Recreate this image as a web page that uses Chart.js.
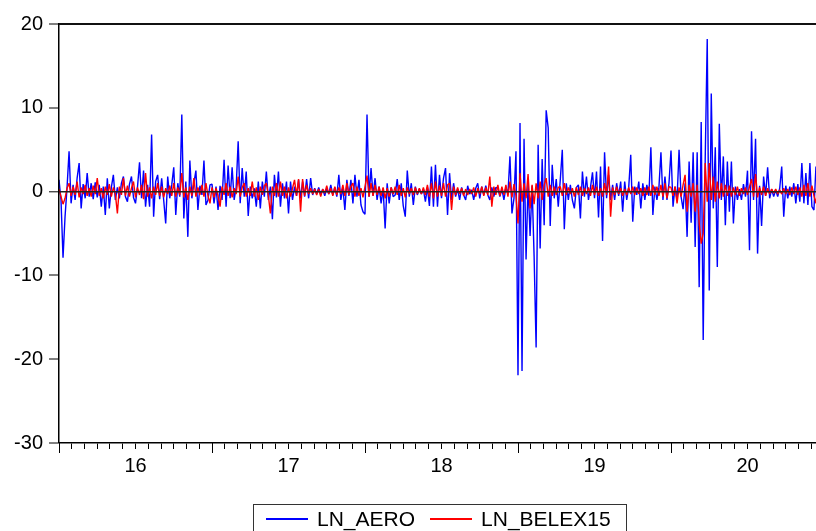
<!DOCTYPE html>
<html lang="en">
<head>
<meta charset="utf-8">
<title>LN_AERO / LN_BELEX15</title>
<script src="https://cdn.jsdelivr.net/npm/chart.js@4.4.1/dist/chart.umd.min.js"></script>
<style>
  html, body { margin: 0; padding: 0; background: #fff; overflow: hidden; }
  #wrap { position: relative; width: 816px; height: 531px; overflow: hidden; }
  #returns-chart { position: absolute; left: 0; top: 0; }
  .legend-box {
    position: absolute; left: 253px; top: 504px; width: 374px; height: 40px;
    border: 1px solid #333; box-sizing: border-box;
    font: 21px "Liberation Sans", Arial, sans-serif; color: #000;
    display: flex; align-items: center; padding: 0 0 11px 12px;
  }
  .legend-box .item { display: flex; align-items: center; margin-right: 15px; }
  .legend-box .swatch { width: 42px; height: 2px; margin-right: 9px; }
</style>
</head>
<body>
<div id="wrap">
  <canvas id="returns-chart" width="830" height="531"></canvas>
  <div class="legend-box" id="legend"></div>
</div>
<script>
  // daily log returns, sampled evenly through each year
  const years = [2016, 2017, 2018, 2019, 2020];
  const yearLabels = ['16', '17', '18', '19', '20'];
  const yTicks = [-30, -20, -10, 0, 10, 20];

  const aero2016 = [1.4, -1.0, -7.9, -3.0, 0.5, 4.8, -1.4, 0.8, -1.0, 1.6,
    3.4, -2.0, 0.9, -0.8, 2.2, -0.6, 1.0, -0.9, 1.1, -0.7,
    0.8, -1.8, 0.6, -2.8, 1.6, -2.0, 0.5, 2.0, -1.0, 0.5,
    -0.8, 1.0, 1.8, -0.6, -1.2, 0.9, 1.8, -0.7, -1.4, 0.6,
    3.5, -0.8, 2.5, -1.8, 0.8, -1.8, 6.8, -3.0, 1.2, 2.0,
    -0.9, 1.6, -1.0, -3.8, 1.8, -0.8, 0.8, 2.9, -2.8, 1.0,
    -0.6, 9.2, -3.2, 1.2, -5.4, 3.7, -0.8, 1.0, 2.5, -2.2,
    0.7, -0.4, 3.7, -1.6, -1.0, 0.8];
  const aero2017 = [0.9, -1.4, 0.6, -2.2, 0.7, -1.0, 3.8, -1.8, 3.1, -0.8,
    2.9, -1.0, 0.5, 6.0, -1.4, 2.8, -0.6, 2.4, -2.9, 0.6,
    -0.8, 0.4, -1.8, 1.2, -2.0, 1.2, -0.6, 2.4, -1.0, 0.6,
    -3.3, 2.0, -0.7, 2.4, -1.8, 1.0, -0.8, 1.2, -2.6, 1.2,
    -1.0, 0.6, -0.5, 1.4, -0.8, 1.2, -0.6, 1.5, -0.8, 1.6,
    -0.4, 0.4, -0.3, 0.5, -0.4, 0.3, -0.5, 0.4, -0.3, 0.8,
    -0.4, 0.5, -0.6, 2.0, -1.0, 0.5, -2.2, 1.4, -0.5, 1.4,
    -1.4, 2.0, -0.6, 1.4, -1.6, -2.4];
  const aero2018 = [-2.7, 9.2, -0.6, 2.8, -0.5, 1.6, -1.0, 0.6, -1.4, 0.4,
    -4.4, 1.0, -1.4, 0.5, -0.6, -0.4, 1.5, -1.0, 1.0, -1.7,
    -3.0, 2.5, -0.6, 1.0, -1.6, 0.6, -0.4, 0.3, -0.3, 0.3,
    -1.2, 0.5, -1.7, 3.0, -1.8, 3.2, -1.8, 2.0, -0.8, 1.6,
    2.8, -2.8, 2.2, -1.0, 1.0, -0.6, 0.3, -1.0, 0.5, -0.4,
    -1.0, 0.7, -0.3, 0.2, -1.0, 0.4, 1.0, -0.8, 0.6, -0.4,
    0.7, -0.4, -1.0, 0.5, -0.6, 0.5, 0.4, -0.6, 0.3, -1.0,
    0.5, -0.3, 4.2, -2.6, -0.8, 4.8];
  const aero2019 = [-21.9, 8.2, -21.4, 6.3, -8.1, 1.0, -5.3, 0.7, -7.7, -18.6,
    5.6, -6.8, 3.9, -4.0, 9.7, 7.6, -4.1, 3.2, -0.8, 1.5,
    -1.8, 1.4, 5.0, -4.5, 1.0, -1.0, 0.8, -1.0, -2.0, 0.5,
    0.8, -3.2, 2.4, -0.6, 1.8, -1.0, 0.5, 2.3, -0.8, 2.4,
    -3.1, 3.0, -5.9, 4.7, -0.8, 2.0, -1.0, 0.8, -1.0, 1.0,
    -0.5, 1.2, -2.4, 1.2, -1.0, 0.5, 4.4, -3.6, 0.6, -0.4,
    1.2, -2.0, 1.0, -1.0, 0.8, -0.5, 5.3, -2.8, 0.6, -1.0,
    0.5, 4.7, -1.0, 1.8, -1.0, 1.0];
  const aero2020 = [4.9, -1.8, 0.6, -1.0, 5.0, -0.6, -2.1, 1.0, -5.4, 3.6,
    -3.7, 4.7, -6.6, 4.7, -11.4, 8.3, -17.7, 4.0, 18.2, -11.8,
    11.7, -2.0, 5.3, -9.0, 8.1, -1.0, 4.2, -4.0, 3.6, -2.4,
    3.6, -3.8, 0.6, -1.0, 0.3, -1.0, 0.9, -0.6, 2.5, -7.0,
    7.2, -1.0, 6.3, -7.4, 0.7, -4.1, 1.8, -0.5, 2.9, -0.8,
    0.3, -0.6, 0.2, -0.6, 0.4, 3.0, -3.0, 0.7, -0.8, 0.6,
    -0.6, 1.0, -1.4, 0.9, -1.2, 3.4, -1.4, 2.2, -1.6, 3.4,
    -1.8, -2.2, 3.0, -1.6, 1.0, -0.6];

  const belex2016 = [0.3, -0.6, -1.5, -0.8, 0.4, 1.0, -0.5, 0.6, -0.4, 1.2,
    -0.7, 0.5, -0.3, 0.8, -0.5, 0.4, -0.6, 0.7, -0.3, 1.6,
    -0.5, 0.4, -0.8, 0.6, -0.4, 0.9, -0.6, 0.5, -0.3, -2.6,
    0.6, -0.4, 1.6, -0.5, 0.7, -0.6, 0.4, 1.2, -0.7, 0.5,
    -0.4, 0.8, -0.9, 2.2, -0.6, 0.5, -0.8, 0.6, -0.4, 1.0,
    -0.5, 0.6, -0.7, 0.4, -0.3, 0.7, -0.5, 1.0, -0.6, 0.5,
    -0.4, 2.2, -0.7, 0.5, -1.0, 0.6, -0.5, 1.6, -0.6, 0.5,
    -0.4, 0.8, -0.6, 1.0, -0.5, -1.4];
  const belex2017 = [0.5, -0.7, 0.4, -0.5, -1.8, 0.6, -0.4, 1.0, -0.5, 0.6,
    -0.7, 0.4, -0.3, 1.8, -0.6, 0.5, 1.0, -0.6, 0.4, -0.5,
    1.2, -0.6, 0.5, -1.0, 0.6, -0.4, 0.7, 1.0, -0.5, -2.6,
    0.6, -0.5, 1.0, -0.6, 1.2, -0.5, 0.6, -0.8, 0.5, -0.6,
    0.4, 1.4, -0.5, 1.5, -2.4, 1.5, -0.5, 0.8, -0.3, 0.4,
    -0.3, 0.3, -0.4, 0.3, -0.6, 0.3, -0.2, 0.7, -0.3, 0.4,
    -0.5, 0.6, -0.4, 0.5, -0.3, 0.8, -0.5, 1.0, -0.4, 0.6,
    1.0, -0.6, 0.6, -0.5, 0.4, -0.7];
  const belex2018 = [0.6, 1.9, -0.6, 1.0, -0.5, 0.8, -0.4, 0.6, -0.5, 0.5,
    -0.8, 0.4, -0.6, 0.5, -0.3, 0.6, -0.4, 0.8, -0.5, 0.4,
    -0.7, 0.5, -0.3, 0.4, -0.4, 0.5, -0.3, 0.4, -0.3, 0.5,
    -0.4, 0.8, -0.6, 1.0, -0.8, 1.2, -0.6, 0.7, -0.5, 1.0,
    -0.6, 0.8, 1.0, -2.2, 0.6, -0.4, 0.5, -0.3, 0.4, -0.5,
    0.3, -0.4, 0.3, -0.3, 0.5, -0.6, 0.4, -0.3, 0.6, -0.5,
    0.5, -0.4, 1.8, -1.8, 0.6, -0.4, 0.8, -0.5, 0.6, -0.4,
    0.8, -0.6, 1.2, -0.7, 0.9, -0.5];
  const belex2019 = [-3.8, 2.2, -1.2, 1.0, -0.8, 2.1, -2.0, 0.8, -1.5, 1.0,
    -0.8, 1.2, -1.0, 0.8, 1.6, -0.6, 0.8, -0.5, 0.6, -0.4,
    0.5, 0.6, -0.5, 1.0, -0.4, 0.5, -0.3, 0.4, -0.6, 0.5,
    -0.4, 0.6, -0.5, 0.4, -0.3, 0.5, -0.5, 0.8, -0.4, 0.6,
    -0.5, 0.4, -0.6, 1.0, -0.4, 3.0, -3.0, 0.5, -0.4, 0.6,
    -0.3, 0.4, -0.5, 0.3, -0.4, 0.5, -0.3, 0.6, -0.4, 0.5,
    -0.3, 0.4, -0.5, 0.5, -0.4, 0.6, -0.5, 0.8, -0.4, 0.6,
    -0.5, 0.8, -0.6, 1.0, -0.8, 0.6];
  const belex2020 = [0.5, -0.5, 0.6, -1.4, 0.5, -0.6, 0.8, 2.0, -2.4, 0.8,
    -0.6, 1.0, -2.4, 0.8, -3.8, -6.2, -5.0, 3.4, -1.2, 3.4,
    -1.0, 1.8, -1.2, 1.2, -0.8, 1.0, -0.6, 0.8, -0.5, 0.7,
    -0.6, 0.5, -0.4, 0.6, -0.5, 0.4, -0.3, 0.5, -0.4, 0.6,
    1.5, -0.6, 2.1, -0.7, 0.5, -0.4, 0.6, -0.5, 0.4, -0.3,
    0.3, -0.2, 0.3, -0.3, 0.2, -0.3, 0.4, -0.3, 0.3, -0.4,
    0.5, -0.3, 0.6, -0.4, 0.5, -0.6, 0.8, -0.5, 1.0, -0.6,
    0.7, -0.5, -1.4, 0.6, -0.4, 0.5];

  // each year's values sit at even steps from 1 January
  function toPoints(yearArrays) {
    return yearArrays.flatMap((vals, k) =>
      vals.map((v, i) => ({ x: years[k] + i / vals.length, y: v })));
  }

  const aeroPoints = toPoints([aero2016, aero2017, aero2018, aero2019, aero2020]);
  const belexPoints = toPoints([belex2016, belex2017, belex2018, belex2019, belex2020]);

  // monthly tick marks, year label in the middle of each year
  const monthTicks = [];
  years.forEach(y => { for (let m = 0; m < 12; m++) monthTicks.push(y + m / 12); });
  monthTicks.push(years[years.length - 1] + 1);

  const tickFont = { family: '"Liberation Sans", Arial, sans-serif', size: 20 };

  // top edge of the box plus the longer year ticks
  const framePlugin = {
    id: 'frame',
    afterDraw(chart) {
      const { ctx, chartArea } = chart;
      const xs = chart.scales.x;
      ctx.save();
      ctx.strokeStyle = '#111';
      ctx.lineWidth = 2;
      ctx.beginPath();
      ctx.moveTo(chartArea.left, chartArea.top);
      ctx.lineTo(chartArea.right, chartArea.top);
      ctx.lineTo(chartArea.right, chartArea.bottom);
      ctx.stroke();
      ctx.lineWidth = 1;
      ctx.strokeStyle = '#000';
      ctx.beginPath();
      years.concat([years[years.length - 1] + 1]).forEach(y => {
        const px = Math.round(xs.getPixelForValue(y)) + 0.5;
        ctx.moveTo(px, chartArea.bottom);
        ctx.lineTo(px, chartArea.bottom + 10);
      });
      ctx.stroke();
      ctx.restore();
    }
  };

  const config = {
    type: 'line',
    data: {
      datasets: [
        {
          label: 'LN_AERO',
          data: aeroPoints,
          borderColor: '#0000ff',
          borderWidth: 1.4,
          order: 1
        },
        {
          label: 'LN_BELEX15',
          data: belexPoints,
          borderColor: '#ff0000',
          borderWidth: 1.4,
          order: 0
        }
      ]
    },
    options: {
      responsive: false,
      animation: false,
      parsing: false,
      normalized: true,
      elements: {
        point: { radius: 0 },
        line: { tension: 0, borderJoinStyle: 'bevel', fill: false }
      },
      layout: { padding: { top: 24, right: 6, bottom: 0, left: 0 } },
      plugins: {
        legend: { display: false },
        tooltip: { enabled: false }
      },
      scales: {
        x: {
          type: 'linear',
          min: years[0],
          max: years[years.length - 1] + 1,
          afterBuildTicks: scale => { scale.ticks = monthTicks.map(v => ({ value: v })); },
          afterFit: scale => { scale.height = 88; },
          border: { display: true, color: '#000', width: 1.5 },
          grid: { drawOnChartArea: false, tickLength: 6, tickColor: '#000', tickWidth: 1 },
          ticks: {
            autoSkip: false,
            maxRotation: 0,
            padding: 5,
            color: '#000',
            font: tickFont,
            callback: (v, i) => (i % 12 === 6 ? yearLabels[(i - 6) / 12] : '')
          }
        },
        y: {
          min: -30,
          max: 20,
          afterBuildTicks: scale => { scale.ticks = yTicks.map(v => ({ value: v })); },
          afterFit: scale => { scale.width = 59; },
          // zero line goes over the series, so the axis line follows it
          border: { display: true, color: '#000', width: 1.5, z: 2 },
          grid: {
            z: 1,
            color: c => (c.tick && c.tick.value === 0 ? '#222' : 'rgba(0,0,0,0)'),
            lineWidth: c => (c.tick && c.tick.value === 0 ? 1.6 : 0),
            tickLength: 10,
            tickColor: '#000',
            tickWidth: 1
          },
          ticks: { padding: 6, color: '#000', font: tickFont }
        }
      }
    },
    plugins: [framePlugin]
  };

  const chart = new Chart(document.getElementById('returns-chart'), config);

  // boxed legend under the axis
  const legend = document.getElementById('legend');
  chart.data.datasets.forEach(ds => {
    const item = document.createElement('div');
    item.className = 'item';
    const sw = document.createElement('span');
    sw.className = 'swatch';
    sw.style.background = ds.borderColor;
    const txt = document.createElement('span');
    txt.textContent = ds.label;
    item.appendChild(sw);
    item.appendChild(txt);
    legend.appendChild(item);
  });
</script>
</body>
</html>
